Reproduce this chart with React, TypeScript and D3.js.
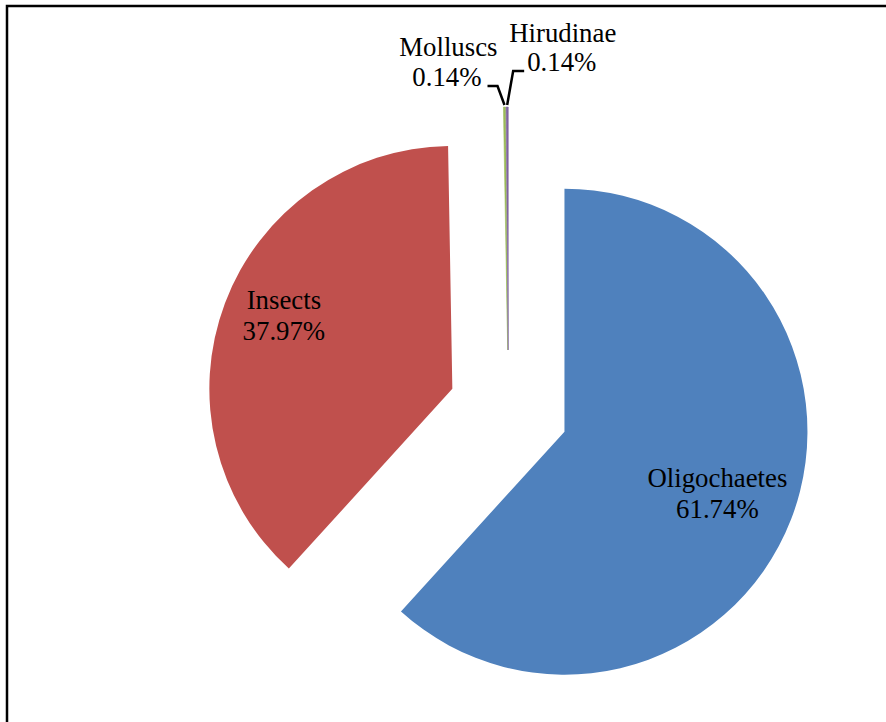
import React from "react";
import * as d3 from "d3";

const categories = ["Oligochaetes", "Insects", "Molluscs", "Hirudinae"];
const values = [61.74, 37.97, 0.14, 0.14];
const labels = ["61.74%", "37.97%", "0.14%", "0.14%"];
const colors = ["#4F81BD", "#C0504D", "#9BBB59", "#8064A2"];

const W = 886;
const H = 722;
const CX = 508.5;
const CY = 410;
const R = 243;
const EXPLODE = 60;
const FONT = "'Liberation Serif', 'Times New Roman', serif";
const FS = 26.8;

export default function App() {
  const pie = d3
    .pie<number>()
    .sort(null)
    .value((d) => d)(values);
  const arc = d3.arc<d3.PieArcDatum<number>>().innerRadius(0).outerRadius(R);

  const offset = (a: number, r: number) => [Math.sin(a) * r, -Math.cos(a) * r];

  return (
    <svg
      width={W}
      height={H}
      style={{ position: "absolute", left: 0, top: 0, background: "#fff" }}
    >
      <rect x={7} y={6} width={W + 20} height={H + 20} fill="none" stroke="#000" strokeWidth={2.5} />
      {pie.map((p, i) => {
        const mid = (p.startAngle + p.endAngle) / 2;
        const [dx, dy] = offset(mid, EXPLODE);
        return (
          <g key={categories[i]} transform={`translate(${CX + dx},${CY + dy})`}>
            <path d={arc(p) || ""} fill={colors[i]} stroke={colors[i]} strokeWidth={i >= 2 ? 0.6 : 0} />
          </g>
        );
      })}
      {pie.slice(0, 2).map((p, i) => {
        const mid = (p.startAngle + p.endAngle) / 2;
        const [dx, dy] = offset(mid, EXPLODE);
        const [lx, ly] = offset(mid, i === 0 ? 164 : 180);
        const x = CX + dx + lx;
        const y = CY + dy + ly + (i === 0 ? 0 : -12);
        return (
          <text key={"l" + i} x={x} fontFamily={FONT} fontSize={FS} textAnchor="middle" fill="#000">
            <tspan x={x} y={y - 4}>{categories[i]}</tspan>
            <tspan x={x} y={y + 27}>{labels[i]}</tspan>
          </text>
        );
      })}
      {pie.slice(2).map((p, j) => {
        const i = j + 2;
        const mid = (p.startAngle + p.endAngle) / 2;
        const [dx, dy] = offset(mid, EXPLODE);
        const [ox, oy] = offset(mid, R);
        const sx = CX + dx + ox;
        const sy = CY + dy + oy - 2;
        const left = i === 2;
        const elbowX = left ? sx - 7 : sx + 6;
        const elbowY = left ? sy - 19 : sy - 34;
        const endX = left ? elbowX - 10 : elbowX + 11;
        const pts: [number, number][] = [
          [sx, sy],
          [elbowX, elbowY],
          [endX, elbowY],
        ];
        const textX = left ? endX - 6 : endX + 3;
        return (
          <g key={"s" + i}>
            <path d={d3.line()(pts) || ""} fill="none" stroke="#000" strokeWidth={2.5} />
            <text fontFamily={FONT} fontSize={FS} fill="#000" textAnchor={left ? "end" : "start"}>
              <tspan x={left ? textX + 16 : textX - 18} y={elbowY - (left ? 30 : 29)} textAnchor={left ? "end" : "start"}>
                {categories[i]}
              </tspan>
              <tspan x={textX} y={elbowY}>{labels[i]}</tspan>
            </text>
          </g>
        );
      })}
    </svg>
  );
}
